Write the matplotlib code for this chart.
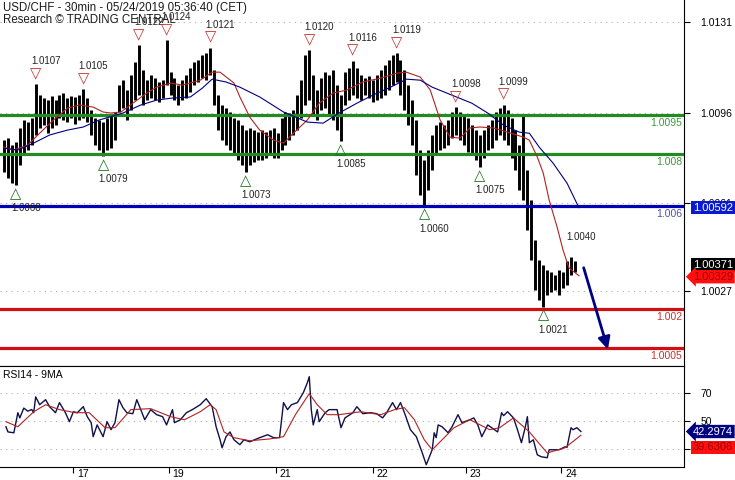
import numpy as np
import matplotlib.pyplot as plt
from matplotlib.transforms import ScaledTranslation

plt.rcParams['font.family'] = ['Liberation Sans', 'DejaVu Sans']

# USD/CHF 30 min bars, every second bar (bar index = 2 * position)
bar_high = [
    1.00853, 1.00861, 1.00834, 1.00846, 1.00900, 1.00931, 1.00923, 1.00938, 1.01070, 1.01027,
    1.01016, 1.01008, 1.01023, 1.01008, 1.01027, 1.01035, 1.01016, 1.01023, 1.01019, 1.01027,
    1.01050, 1.01016, 1.00969, 1.00938, 1.00931, 1.00923, 1.00938, 1.00950, 1.00962, 1.01066,
    1.01085, 1.01047, 1.01105, 1.01155, 1.01220, 1.01124, 1.01085, 1.01105, 1.01093, 1.01078,
    1.01085, 1.01240, 1.01116, 1.01093, 1.01066, 1.01085, 1.01105, 1.01132, 1.01155, 1.01163,
    1.01182, 1.01190, 1.01210, 1.01124, 1.01027, 1.00989, 1.00977, 1.00962, 1.00938, 1.00931,
    1.00911, 1.00892, 1.00900, 1.00892, 1.00884, 1.00892, 1.00884, 1.00892, 1.00900, 1.00880,
    1.00938, 1.00962, 1.00958, 1.00969, 1.01027, 1.01085, 1.01182, 1.01200, 1.01105, 1.01047,
    1.01093, 1.01116, 1.01105, 1.01124, 1.01066, 1.01027, 1.01116, 1.01132, 1.01160, 1.01132,
    1.01105, 1.01093, 1.01101, 1.01085, 1.01105, 1.01124, 1.01143, 1.01163, 1.01182, 1.01190,
    1.01163, 1.01124, 1.01066, 1.01008, 1.00931, 1.00815, 1.00776, 1.00815, 1.00873, 1.00911,
    1.00923, 1.00911, 1.00931, 1.00962, 1.00980, 1.00962, 1.00950, 1.00938, 1.00911, 1.00892,
    1.00873, 1.00892, 1.00911, 1.00931, 1.00962, 1.00977, 1.00990, 1.00969, 1.00938, 1.00892,
    1.00834, 1.00950, 1.00737, 1.00621, 1.00467, 1.00389, 1.00370, 1.00351, 1.00343, 1.00332,
    1.00351, 1.00343, 1.00385, 1.00400, 1.00385,
]
bar_low = [
    1.00730, 1.00706, 1.00687, 1.00680, 1.00757, 1.00795, 1.00815, 1.00834, 1.00873, 1.00900,
    1.00911, 1.00880, 1.00900, 1.00911, 1.00938, 1.00931, 1.00923, 1.00938, 1.00915, 1.00931,
    1.00938, 1.00923, 1.00873, 1.00834, 1.00815, 1.00790, 1.00815, 1.00822, 1.00853, 1.00962,
    1.00977, 1.00931, 1.00969, 1.01008, 1.01027, 1.00989, 1.01008, 1.01016, 1.01008, 1.01000,
    1.01016, 1.01066, 1.01027, 1.01008, 1.00989, 1.01008, 1.01016, 1.01039, 1.01066, 1.01078,
    1.01093, 1.01085, 1.01105, 1.00989, 1.00892, 1.00853, 1.00834, 1.00815, 1.00795, 1.00776,
    1.00757, 1.00730, 1.00757, 1.00768, 1.00776, 1.00776, 1.00784, 1.00795, 1.00784, 1.00784,
    1.00815, 1.00834, 1.00853, 1.00873, 1.00892, 1.00938, 1.00989, 1.01008, 1.00950, 1.00931,
    1.00969, 1.00977, 1.00950, 1.00931, 1.00892, 1.00850, 1.00989, 1.01008, 1.01027, 1.01016,
    1.01008, 1.01027, 1.01016, 1.01000, 1.01008, 1.01016, 1.01027, 1.01047, 1.01066, 1.01078,
    1.01027, 1.00969, 1.00911, 1.00834, 1.00718, 1.00641, 1.00600, 1.00660, 1.00737, 1.00795,
    1.00815, 1.00822, 1.00834, 1.00861, 1.00873, 1.00853, 1.00834, 1.00807, 1.00795, 1.00776,
    1.00750, 1.00784, 1.00815, 1.00822, 1.00853, 1.00873, 1.00853, 1.00834, 1.00784, 1.00737,
    1.00660, 1.00621, 1.00505, 1.00389, 1.00274, 1.00235, 1.00210, 1.00254, 1.00266, 1.00274,
    1.00254, 1.00281, 1.00293, 1.00332, 1.00343,
]
last_close = 1.00371

# moving averages (bar index, price)
ma_red_x = [0, 5, 12, 18, 25, 32, 38, 45, 50, 54, 59, 65, 72, 77, 84, 90, 99, 105, 109, 116,
            119, 124, 129, 136, 141, 146, 153, 159, 166, 173, 181, 190, 198, 203, 210, 215,
            220, 225, 230, 235, 240, 247, 254, 262, 265, 269, 272, 275, 279, 282, 285, 290]
ma_red_y = [1.00826, 1.00815, 1.00834, 1.00880, 1.00931, 1.00977, 1.00989, 1.00981, 1.00962,
            1.00958, 1.00962, 1.00996, 1.01035, 1.01058, 1.01074, 1.01066, 1.01085, 1.01116,
            1.01116, 1.01074, 1.01020, 1.00942, 1.00892, 1.00853, 1.00842, 1.00880, 1.00931,
            1.00996, 1.01035, 1.01047, 1.01078, 1.01093, 1.01112, 1.01116, 1.01097, 1.01047,
            1.00931, 1.00865, 1.00861, 1.00900, 1.00904, 1.00900, 1.00884, 1.00865, 1.00853,
            1.00788, 1.00726, 1.00621, 1.00517, 1.00428, 1.00359, 1.00329]
ma_blue_x = [0, 7, 15, 23, 32, 40, 48, 53, 60, 69, 77, 85, 94, 100, 105, 112, 119, 129, 141,
             153, 161, 169, 178, 186, 195, 203, 210, 216, 226, 236, 244, 252, 260, 265, 270,
             277, 284, 290]
ma_blue_y = [1.00822, 1.00815, 1.00842, 1.00873, 1.00892, 1.00904, 1.00931, 1.00942, 1.00958,
             1.00989, 1.01008, 1.01016, 1.01020, 1.01054, 1.01089, 1.01078, 1.01058, 1.01020,
             1.00962, 1.00923, 1.00919, 1.00958, 1.00996, 1.01027, 1.01058, 1.01089, 1.01085,
             1.01058, 1.01027, 1.00996, 1.00958, 1.00911, 1.00884, 1.00880, 1.00826, 1.00764,
             1.00687, 1.00592]

# pivots (bar index)
pivot_high_idx = [16, 40, 68, 82, 104, 154, 176, 198, 228, 252]
pivot_low_idx = [6, 50, 122, 170, 212, 240, 272]
pending_high_idx = [286]

# support / resistance levels
level_values = [1.0095, 1.008, 1.006, 1.002, 1.0005]
level_labels = ['1.0095', '1.008', '1.006', '1.002', '1.0005']
level_colors = ['#228b22', '#228b22', '#0000b4', '#d01010', '#d01010']
level_text_colors = ['#3c9a3c', '#3c9a3c', '#5050a8', '#c83030', '#c83030']

forecast_x = [292, 305]
forecast_y = [1.0037, 1.00034]

price_ticks = [1.0131, 1.0096, 1.0061, 1.0027]

# RSI 14 and its 9 period average
rsi_x = [1, 2, 5, 7, 8, 10, 12, 14, 15, 16, 18, 21, 23, 26, 28, 31, 33, 35, 37, 40, 42, 44,
         45, 47, 50, 52, 54, 56, 58, 60, 62, 65, 67, 69, 71, 74, 77, 80, 82, 85, 86, 89, 92,
         95, 99, 102, 105, 107, 109, 110, 112, 114, 116, 119, 121, 124, 129, 133, 136, 139,
         141, 143, 145, 148, 151, 153, 154, 155, 156, 158, 159, 162, 164, 168, 170, 172, 176,
         178, 181, 185, 188, 191, 193, 196, 198, 200, 202, 205, 208, 211, 213, 216, 217, 218,
         219, 221, 224, 226, 229, 231, 235, 237, 239, 241, 244, 246, 249, 251, 252, 254, 257,
         259, 261, 263, 264, 265, 267, 269, 271, 274, 275, 277, 280, 283, 284, 286, 287, 289,
         291]
rsi_val = [45.7, 42, 41.4, 55.7, 52, 59, 56.8, 58, 55.7, 67, 61.4, 65, 60, 55.7, 62.9, 55.7,
           49.3, 56.4, 55.7, 60, 52.9, 48.6, 38.6, 47, 38.6, 49.3, 43.6, 48.6, 65, 59.3, 55.7,
           55, 65, 57.9, 50.7, 57.9, 54.3, 52.9, 47, 57.9, 48.6, 50.7, 55.7, 57.9, 61.4, 65.7,
           60, 45.7, 36.4, 30.7, 38.6, 42, 36.4, 32.9, 36.4, 35, 37.9, 40, 37.9, 37.9, 62.9,
           57.9, 61.4, 62.9, 70, 77, 81.4, 57.9, 47, 57.9, 49.3, 55.7, 57.9, 57.9, 45, 52, 55.7,
           60, 55, 55.7, 55, 52, 55.7, 62.9, 57.9, 62.9, 55.7, 43.6, 38.6, 27, 18.6, 29.3, 41.4,
           37.9, 47, 45.7, 41.4, 45.7, 54.3, 48.6, 50.7, 52, 47, 38.6, 47, 45, 42, 55.7, 53.6,
           56.4, 52, 43.6, 34.3, 45.7, 52.9, 34.3, 36.4, 25.7, 24.3, 23.6, 29.3, 29.3, 29.3,
           31.4, 31, 45, 43.6, 45, 42.2974]
rsi_ma_x = [1, 7, 15, 21, 28, 36, 43, 51, 56, 64, 74, 84, 91, 99, 104, 107, 111, 116, 124,
            134, 141, 147, 154, 158, 163, 169, 180, 190, 197, 202, 207, 212, 216, 221, 227,
            235, 245, 250, 257, 265, 274, 283, 291]
rsi_ma_val = [49.3, 45.7, 56.4, 61.4, 57.9, 55.7, 55.7, 45, 45, 57.9, 58.6, 52.9, 50.7, 56.4,
              61.4, 57.9, 42, 37.9, 35.7, 37, 38.6, 54.3, 69.3, 61.4, 54.3, 54.3, 56.4, 54.3,
              57.9, 59.3, 50.7, 36.4, 29.3, 36.4, 45, 50.7, 43.6, 45, 52, 42, 27, 30.7, 39.6306]

day_ticks = [35, 83, 137, 186, 233, 281]
day_labels = ['17', '19', '21', '22', '23', '24']

W, H = 735, 480
fig = plt.figure(figsize=(W / 100, H / 100), dpi=100)
ax = fig.add_axes([0, 1 - 366 / H, 684 / W, 366 / H])
ax2 = fig.add_axes([0, 13 / H, 684 / W, 101 / H])

bar_x = np.arange(len(bar_high)) * 2
bh = np.array(bar_high)
bl = np.array(bar_low)

# price panel
ax.vlines(bar_x, bl, bh, color='black', lw=2.1, zorder=3)
for v, c in zip(level_values, level_colors):
    ax.axhline(v, color=c, lw=2.3, zorder=4)
for v, t, c in zip(level_values, level_labels, level_text_colors):
    ax.annotate(t, xy=(1, v), xycoords=('axes fraction', 'data'), xytext=(-2, -3),
                textcoords='offset pixels', ha='right', va='top', fontsize=7.5, color=c)
ax.plot(ma_red_x, ma_red_y, color='#b22222', lw=0.8, zorder=5)
ax.plot(ma_blue_x, ma_blue_y, color='#000080', lw=0.8, zorder=5)

for i in pivot_high_idx:
    v = bh[i // 2]
    ax.annotate('▽', xy=(i, v), xytext=(0, 10), textcoords='offset pixels', ha='center',
                va='center', fontsize=10.5, color='#c83030', fontweight='bold', zorder=6)
    ax.annotate(f'{v:.4f}', xy=(i, v), xytext=(10, 23), textcoords='offset pixels',
                ha='center', va='center', fontsize=7, color='#222222', zorder=6)
for i in pending_high_idx:
    v = bh[i // 2]
    ax.annotate(f'{v:.4f}', xy=(i, v), xytext=(10, 20), textcoords='offset pixels',
                ha='center', va='center', fontsize=7, color='#222222', zorder=6)
for i in pivot_low_idx:
    v = bl[i // 2]
    ax.annotate('△', xy=(i, v), xytext=(0, -9), textcoords='offset pixels', ha='center',
                va='center', fontsize=10.5, color='#207020', fontweight='bold', zorder=6)
    ax.annotate(f'{v:.4f}', xy=(i, v), xytext=(10, -23), textcoords='offset pixels',
                ha='center', va='center', fontsize=7, color='#222222', zorder=6)

ax.annotate('', xy=(forecast_x[1], forecast_y[1]), xytext=(forecast_x[0], forecast_y[0]),
            arrowprops=dict(arrowstyle='-|>', color='#000080', lw=2, mutation_scale=18),
            zorder=7)

ax.set_xlim(-2, 343)
ax.set_ylim(0.99980, 1.01395)
ax.set_xticks([])
ax.yaxis.tick_right()
ax.set_yticks(price_ticks)
ax.set_yticklabels([f'{t:.4f}' for t in price_ticks])
ax.tick_params(axis='y', direction='out', length=4, pad=8, labelsize=7.5,
               colors='black')
ax.grid(axis='y', color='#b0b0b0', linestyle=(0, (1, 4)), lw=0.8)
for s in ['top', 'left']:
    ax.spines[s].set_visible(False)

# current value boxes
box_kw = dict(xycoords=('axes fraction', 'data'), textcoords='offset pixels',
              va='center', ha='left', fontsize=8, zorder=10, annotation_clip=False)
ax.annotate(f'{ma_blue_y[-1]:.5f}', xy=(1, ma_blue_y[-1]), xytext=(9, 0), color='white',
            bbox=dict(boxstyle='square,pad=0.15', fc='#0a1ad0', ec='none'), **box_kw)
ax.annotate(f'{last_close:.5f}', xy=(1, last_close), xytext=(9, 0), color='white',
            bbox=dict(boxstyle='square,pad=0.15', fc='black', ec='none'), **box_kw)
ax.annotate(f'{ma_red_y[-1]:.5f}', xy=(1, ma_red_y[-1]), xytext=(9, -1), color='#a00000',
            bbox=dict(boxstyle='larrow,pad=0.15', fc='#ff1010', ec='none'), **box_kw)

# RSI panel
ax2.plot(rsi_x, rsi_val, color='#10104a', lw=1.0, zorder=3)
ax2.plot(rsi_ma_x, rsi_ma_val, color='#b22222', lw=0.8, zorder=4)
ax2.set_xlim(-2, 343)
ax2.set_ylim(17, 89)
ax2.yaxis.tick_right()
ax2.set_yticks([70, 50, 30])
ax2.tick_params(axis='y', direction='out', length=4, pad=8, labelsize=7.5)
ax2.grid(axis='y', color='#b0b0b0', linestyle=(0, (1, 4)), lw=0.8)
ax2.set_xticks(day_ticks)
ax2.set_xticklabels(day_labels, ha='left')
ax2.tick_params(axis='x', direction='out', length=4.3, pad=-3.2, labelsize=7.5)
shift = ScaledTranslation(4 / 100, 0, fig.dpi_scale_trans)
for lab in ax2.get_xticklabels():
    lab.set_transform(lab.get_transform() + shift)
ax2.spines['left'].set_visible(False)
ax2.text(0.005, 0.91, 'RSI14 - 9MA', transform=ax2.transAxes, fontsize=7.5,
         va='center', ha='left')
ax2.annotate(f'{rsi_val[-1]:.4f}', xy=(1, rsi_val[-1]), xytext=(9, 0), color='white',
             bbox=dict(boxstyle='larrow,pad=0.15', fc='#000080', ec='none'), **box_kw)
ax2.annotate(f'{rsi_ma_val[-1]:.4f}', xy=(1, rsi_ma_val[-1]), xytext=(9, -12),
             color='#a00000', bbox=dict(boxstyle='square,pad=0.15', fc='#ff1010', ec='none'),
             **box_kw)

fig.text(3 / W, 1 - 8 / H, 'USD/CHF - 30min - 05/24/2019 05:36:40 (CET)', fontsize=8.3,
         va='center', ha='left', color='#1a1a1a')
fig.text(3 / W, 1 - 20 / H, 'Research © TRADING CENTRAL', fontsize=8.3,
         va='center', ha='left', color='#1a1a1a')

fig.savefig('out.png', dpi=100)
